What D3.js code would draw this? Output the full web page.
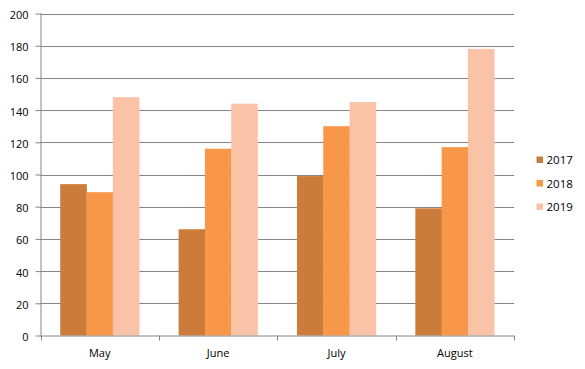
<!DOCTYPE html>
<html><head><meta charset="utf-8">
<script src="https://cdn.jsdelivr.net/npm/d3@7"></script>
<style>body{margin:0;background:#fff}svg{display:block}text{font-family:"Open Sans",sans-serif;font-size:11px;fill:#000}</style>
</head><body><svg id="c" width="585" height="369"></svg>
<script>
const categories = ["May","June","July","August"];
const seriesNames = ["2017","2018","2019"];
const s2017 = [94,66,99,79];
const s2018 = [89,116,130,117];
const s2019 = [148,144,145,178];
const yTicks = [0,20,40,60,80,100,120,140,160,180,200];
const colors = ["#CB7B3A","#F79747","#FAC3A8"];
const seriesValues = [s2017,s2018,s2019];

const svg = d3.select("#c");
const L=40.5, R=514, T=13.5, B=335.5;
const x = d3.scaleBand().domain(categories).range([L,R]).paddingInner(0).paddingOuter(0);
const y = d3.scaleLinear().domain([0,200]).range([B,T]);
const barW = x.bandwidth()/4.5;

// gridlines
svg.append("g").selectAll("line").data(yTicks.filter(d=>d>0)).join("line")
 .attr("x1",L).attr("x2",R).attr("y1",d=>Math.round(y(d))+0.5).attr("y2",d=>Math.round(y(d))+0.5)
 .attr("stroke","#868686").attr("stroke-width",1);

// bars
seriesValues.forEach((vals,si)=>{
  svg.append("g").selectAll("rect").data(categories).join("rect")
   .attr("x",(c)=>x(c)+x.bandwidth()*0.75/4.5+si*barW)
   .attr("width",barW+0.3)
   .attr("y",(c,i)=>y(vals[i]))
   .attr("height",(c,i)=>y(0)-y(vals[i]))
   .attr("fill",colors[si]);
});

// y axis
const ya = svg.append("g").attr("transform",`translate(${L},0)`)
 .call(d3.axisLeft(y).tickValues(yTicks).tickSize(5).tickPadding(7).tickSizeOuter(0));
ya.select(".domain").attr("stroke","#868686").attr("d",`M0.5,${T}V${B}`);
ya.selectAll(".tick line").attr("stroke","#868686").attr("x1",0.5);
ya.selectAll("text").style("font-size","11px").attr("fill","#000").attr("dy","0.45em");

// x axis
const xa = svg.append("g").attr("transform",`translate(0,${B})`)
 .call(d3.axisBottom(x).tickSize(0).tickPadding(14));
xa.select(".domain").attr("stroke","#868686").attr("d",`M${L},0.5H${R}`);
xa.selectAll("text").style("font-size","11px").attr("fill","#000");
// category boundary ticks
const bounds = categories.map(c=>x(c)).concat([R]);
svg.append("g").selectAll("line").data(bounds).join("line")
 .attr("x1",d=>Math.round(d)+0.5).attr("x2",d=>Math.round(d)+0.5).attr("y1",B).attr("y2",B+5)
 .attr("stroke","#868686");

// legend
const lg = svg.append("g").attr("transform","translate(536.5,156.5)");
seriesNames.forEach((n,i)=>{
  const g = lg.append("g").attr("transform",`translate(0,${i*23.5})`);
  g.append("rect").attr("width",6.5).attr("height",6.5).attr("fill",colors[i]);
  g.append("text").attr("x",10).attr("y",3.5).attr("dy","0.38em").style("font-size","11.5px").text(n);
});
</script></body></html>
